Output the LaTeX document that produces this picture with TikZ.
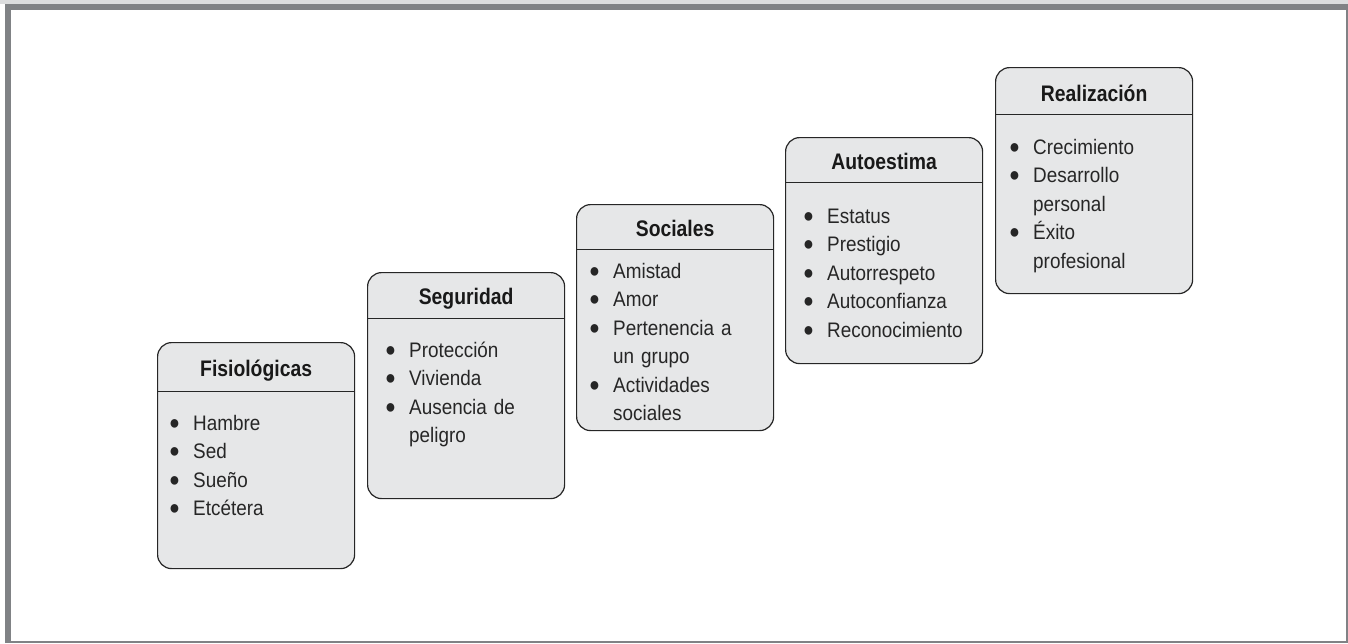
\documentclass[tikz,border=0pt]{standalone}
\usepackage{fontspec}
\setmainfont{Liberation Sans}[FakeStretch=0.9]
\newfontfamily\titlefont{Liberation Sans}[FakeStretch=0.86]
\usepackage{tikz}

\definecolor{framegray}{HTML}{808285}
\definecolor{stripgray}{HTML}{DCDDDE}
\definecolor{boxgray}{HTML}{E6E7E8}

\newcommand{\itm}[1]{\noindent\hangindent=27pt\hangafter=1%
	\makebox[27pt][l]{\hspace{3pt}\raisebox{1pt}{\fontsize{20}{20}\selectfont ●}}\strut#1\par}

\tikzset{
	levelbox/.style={draw=black!85, line width=1.2pt, fill=boxgray, rounded corners=14pt,
		minimum width=197pt, minimum height=226pt, anchor=north west, inner sep=0pt},
	leveltitle/.style={anchor=base, inner sep=0pt, text=black!90,
		font=\titlefont\bfseries\fontsize{22.5}{24}\selectfont},
	levellist/.style={anchor=north west, inner sep=0pt, text width=185pt, align=left,
		text=black!85, font=\fontsize{21}{28.5}\selectfont},
	sepline/.style={draw=black!85, line width=0.8pt}
}

\begin{document}
\begin{tikzpicture}[x=1pt, y=-1pt]
	\useasboundingbox (0,0) rectangle (1348,643);
	\fill[stripgray] (0,0) rectangle (1348,4);
	\fill[framegray] (5,4) rectangle (1348,643);
	\fill[white] (11,10) rectangle (1346,641);

	% the five levels
	\node[levelbox] (fis) at (157,342) {};
	\node[levelbox] (seg) at (367,272) {};
	\node[levelbox] (soc) at (576,204) {};
	\node[levelbox] (aut) at (785,137) {};
	\node[levelbox] (rea) at (995,67) {};

	\node[leveltitle] (fistitle) at ([yshift=-34pt]fis.north) {Fisiológicas};
	\node[leveltitle] (segtitle) at ([yshift=-32pt]seg.north) {Seguridad};
	\node[leveltitle] (soctitle) at ([yshift=-32pt]soc.north) {Sociales};
	\node[leveltitle] (auttitle) at ([yshift=-32pt]aut.north) {Autoestima};
	\node[leveltitle] (reatitle) at ([yshift=-34pt]rea.north) {Realización};

	\draw[sepline] ([yshift=-49pt]fis.north west) -- ([yshift=-49pt]fis.north east);
	\draw[sepline] ([yshift=-46pt]seg.north west) -- ([yshift=-46pt]seg.north east);
	\draw[sepline] ([yshift=-45pt]soc.north west) -- ([yshift=-45pt]soc.north east);
	\draw[sepline] ([yshift=-45pt]aut.north west) -- ([yshift=-45pt]aut.north east);
	\draw[sepline] ([yshift=-47pt]rea.north west) -- ([yshift=-47pt]rea.north east);

	\node[levellist] (fislist) at ([xshift=9pt, yshift=-68pt]fis.north west) {
		\itm{Hambre}
		\itm{Sed}
		\itm{Sueño}
		\itm{Etcétera}};
	\node[levellist] (seglist) at ([xshift=15pt, yshift=-65pt]seg.north west) {
		\itm{Protección}
		\itm{Vivienda}
		\itm{Ausencia de\newline peligro}};
	\node[levellist] (soclist) at ([xshift=10pt, yshift=-54pt]soc.north west) {
		\itm{Amistad}
		\itm{Amor}
		\itm{Pertenencia a\newline un grupo}
		\itm{Actividades\newline sociales}};
	\node[levellist] (autlist) at ([xshift=15pt, yshift=-66pt]aut.north west) {
		\itm{Estatus}
		\itm{Prestigio}
		\itm{Autorrespeto}
		\itm{Autoconfianza}
		\itm{Reconocimiento}};
	\node[levellist] (realist) at ([xshift=11pt, yshift=-67pt]rea.north west) {
		\itm{Crecimiento}
		\itm{Desarrollo\newline personal}
		\itm{Éxito\newline profesional}};
\end{tikzpicture}
\end{document}
